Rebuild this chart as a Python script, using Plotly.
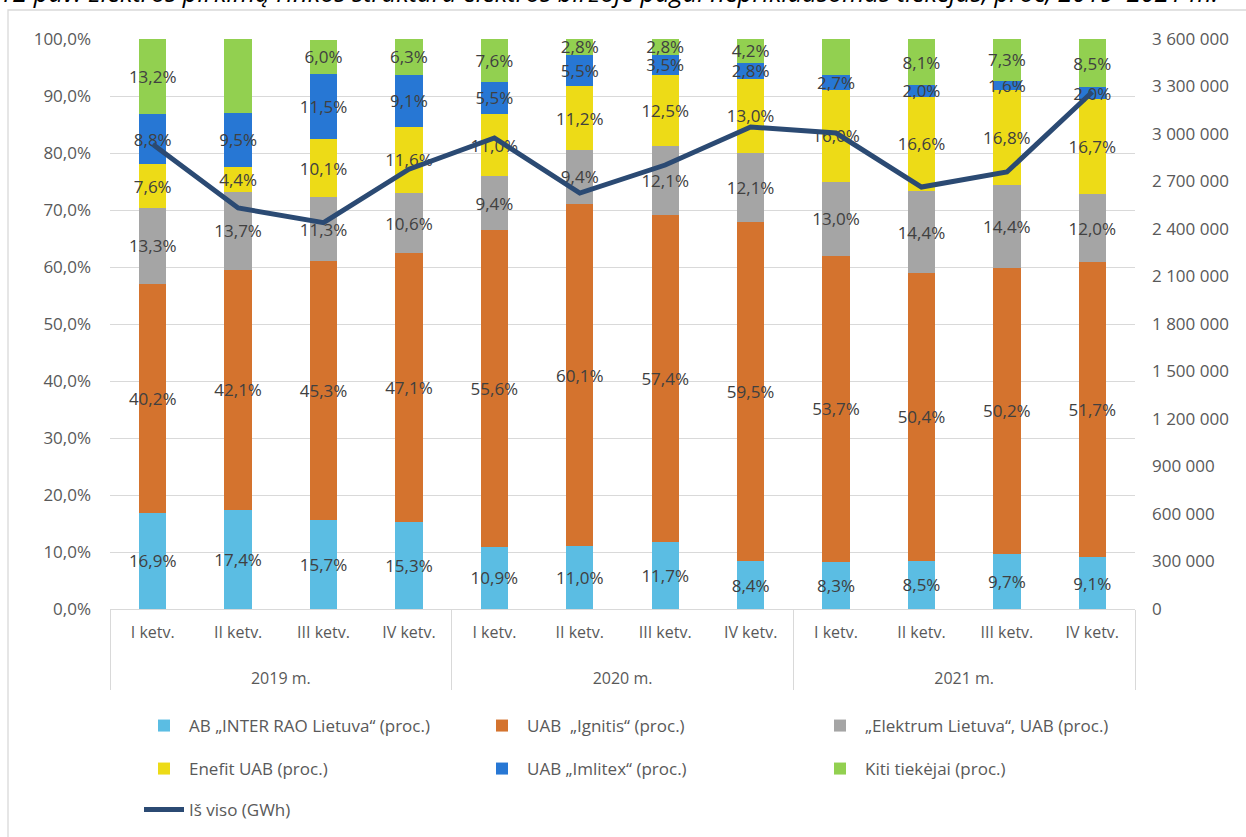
import plotly.graph_objects as go

years = ["2019 m."] * 4 + ["2020 m."] * 4 + ["2021 m."] * 4
quarters = ["I ketv.", "II ketv.", "III ketv.", "IV ketv."] * 3

inter_rao = [16.9, 17.4, 15.7, 15.3, 10.9, 11.0, 11.7, 8.4, 8.3, 8.5, 9.7, 9.1]
ignitis = [40.2, 42.1, 45.3, 47.1, 55.6, 60.1, 57.4, 59.5, 53.7, 50.4, 50.2, 51.7]
elektrum = [13.3, 13.7, 11.3, 10.6, 9.4, 9.4, 12.1, 12.1, 13.0, 14.4, 14.4, 12.0]
enefit = [7.6, 4.4, 10.1, 11.6, 11.0, 11.2, 12.5, 13.0, 16.0, 16.6, 16.8, 16.7]
imlitex = [8.8, 9.5, 11.5, 9.1, 5.5, 5.5, 3.5, 2.8, 2.7, 2.0, 1.6, 2.0]
kiti = [13.2, 13.0, 6.0, 6.3, 7.6, 2.8, 2.8, 4.2, 6.4, 8.1, 7.3, 8.5]
total = [2935000, 2533000, 2440000, 2778000, 2975000, 2627000, 2804000, 3044000,
         3006000, 2665000, 2760000, 3265000]

series = [
    ("AB „INTER RAO Lietuva“ (proc.)", inter_rao, "#5BBDE3", "legend"),
    ("UAB  „Ignitis“ (proc.)", ignitis, "#D4732E", "legend"),
    ("„Elektrum Lietuva“, UAB (proc.)", elektrum, "#A5A5A5", "legend"),
    ("Enefit UAB (proc.)", enefit, "#EDDB17", "legend2"),
    ("UAB „Imlitex“ (proc.)", imlitex, "#2777D4", "legend2"),
    ("Kiti tiekėjai (proc.)", kiti, "#92D050", "legend2"),
]

FONT = "Open Sans"
W, H = 1246, 837
ML, MR, MT, MB = 110, 111, 39, 228
PW, PH = W - ML - MR, H - MT - MB


def px_x(px):
    return (px - ML) / PW


def px_y(py):
    return (H - MB - py) / PH


def lab(s):
    return f"<span style='font-size:16px'>{s}</span>"


# quarter labels get spacer lines so the year row sits lower
x_cats = [[lab(y) for y in years], [lab(q) + "<br> <br> " for q in quarters]]

fig = go.Figure()
for name, vals, color, lg in series:
    fig.add_trace(go.Bar(
        x=x_cats, y=[v / 100 for v in vals], name=name,
        marker=dict(color=color, line=dict(width=0)),
        text=[f"{v:.1f}%".replace(".", ",") for v in vals],
        textposition="inside", insidetextanchor="middle", textangle=0,
        constraintext="none", cliponaxis=False,
        textfont=dict(family=FONT, size=17, color="#404040"),
        legend=lg, hoverinfo="skip",
    ))

fig.add_trace(go.Scatter(
    x=x_cats, y=total, name="Iš viso (GWh)", yaxis="y2",
    mode="lines", line=dict(color="#2B4A73", width=5), legend="legend3",
    hoverinfo="skip",
))

legend_common = dict(orientation="h", xanchor="left", yanchor="middle",
                     xref="container", yref="container",
                     x=139 / W, entrywidth=283, entrywidthmode="pixels",
                     traceorder="normal",
                     font=dict(family=FONT, size=17, color="#595959"),
                     bgcolor="rgba(0,0,0,0)", itemwidth=40)

fig.update_layout(
    width=W, height=H,
    margin=dict(l=ML, r=MR, t=MT, b=MB, autoexpand=False),
    paper_bgcolor="white", plot_bgcolor="white",
    barmode="stack", bargap=0.68,
    separators=", ",
    font=dict(family=FONT, size=16, color="#595959"),
    showlegend=True,
    legend=dict(**legend_common, y=1 - 726 / H),
    legend2=dict(**legend_common, y=1 - 769 / H),
    legend3=dict(**legend_common, y=1 - 810 / H),
    xaxis=dict(type="multicategory", showgrid=False, showline=True,
               linecolor="#D9D9D9", linewidth=1.3, ticks="",
               showdividers=True, dividercolor="#D9D9D9", dividerwidth=1.3,
               ticklabelstandoff=12,
               tickfont=dict(family=FONT, size=13.5, color="#595959")),
    yaxis=dict(range=[0, 1], dtick=0.1, tickformat=".1%", showgrid=True,
               gridcolor="#D9D9D9", gridwidth=1.3, zeroline=False,
               ticks="", ticklabelstandoff=18,
               tickfont=dict(family=FONT, size=17, color="#595959")),
    yaxis2=dict(range=[0, 3600000], dtick=300000, tickformat=",d",
                overlaying="y", side="right", showgrid=False, zeroline=False,
                ticks="", ticklabelstandoff=16,
                tickfont=dict(family=FONT, size=17, color="#595959")),
    shapes=[dict(type="rect", xref="paper", yref="paper",
                 x0=px_x(8), x1=px_x(1300), y0=px_y(10), y1=px_y(900),
                 line=dict(color="#D9D9D9", width=1.3), layer="above")],
    annotations=[dict(
        text="12 pav. Elektros pirkimų rinkos struktūra elektros biržoje pagal nepriklausomus tiekėjus, proc, 2019–2021 m.",
        xref="paper", yref="paper", x=px_x(-3), y=px_y(11), xanchor="left",
        yanchor="bottom", showarrow=False,
        font=dict(family=FONT, size=25.5, color="#000000", style="italic"))],
)

fig.write_html("out.html", post_script="document.body.style.margin='0';",
               config={"displayModeBar": False})
